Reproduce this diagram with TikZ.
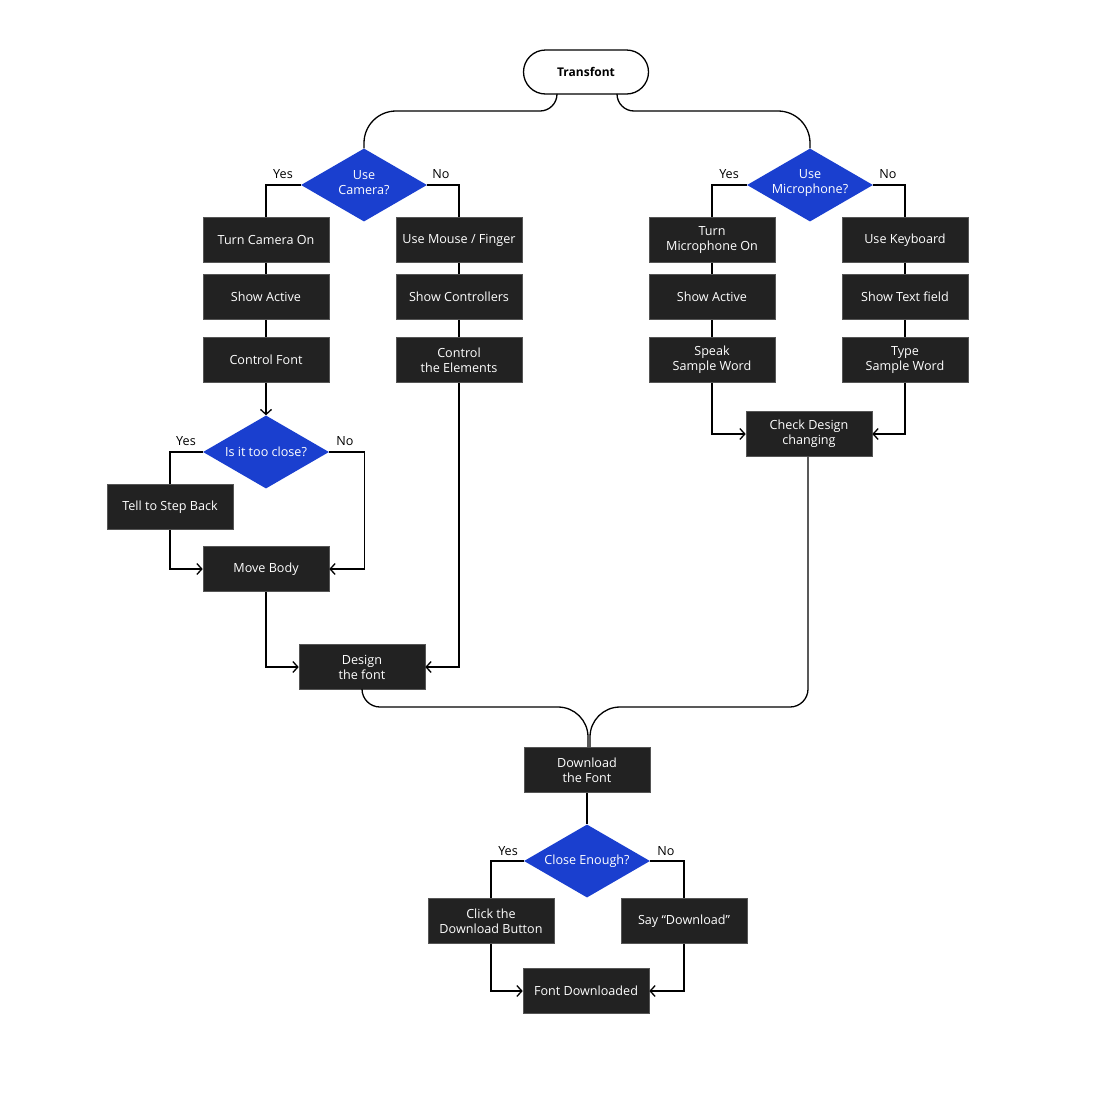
\documentclass[tikz,border=0pt]{standalone}
\usepackage{fontspec}
\setmainfont{Open Sans}
\usetikzlibrary{arrows.meta,shapes.geometric,positioning}
\definecolor{boxfill}{HTML}{222222}
\definecolor{boxline}{HTML}{555555}
\definecolor{decblue}{HTML}{1A3FCF}
\begin{document}
\begin{tikzpicture}[x=1pt,y=-1pt,
  every node/.style={font=\fontsize{12.6}{15}\selectfont},
  proc/.style={draw=boxline,line width=0.6pt,fill=boxfill,text=white,minimum width=126pt,minimum height=45pt,inner sep=0pt,align=center},
  dec/.style={shape=diamond,fill=decblue,minimum width=126pt,minimum height=73pt,inner sep=0pt},
  dtext/.style={text=white,align=center},
  dtexttwo/.style={dtext,yshift=2pt},
  term/.style={draw=black,line width=1.3pt,fill=white,rounded corners=22pt,minimum width=125pt,minimum height=44pt,inner sep=0pt,font=\fontsize{12}{14.5}\selectfont\bfseries},
  lbl/.style={text=black},
  conn/.style={draw=black,line width=1.3pt},
  arr/.style={conn,-{Straight Barb[length=5pt,width=11pt,line width=1.3pt]}}
]
\useasboundingbox (0,0) rectangle (1100,1093);

\node[term] (t) at (586,72) {Transfont};

% left branch
\node[dec,label={[dtexttwo]center:Use\\Camera?}] (uc) at (364,185) {};
\node[lbl] (ucy) at (283,174) {Yes};
\node[lbl] (ucn) at (441,174) {No};
\node[proc] (tco) at (266,240) {Turn Camera On};
\node[proc] (sa1) at (266,297) {Show Active};
\node[proc] (cf) at (266,360) {Control Font};
\node[proc] (umf) at (459,240) {Use Mouse / Finger};
\node[proc] (sc) at (459,297) {Show Controllers};
\node[proc] (ce) at (459,360) {Control\\the Elements};
\node[dec,label={[dtext]center:Is it too close?}] (itc) at (266,452) {};
\node[lbl] (itcy) at (186,441) {Yes};
\node[lbl] (itcn) at (345,441) {No};
\node[proc] (tsb) at (170,507) {Tell to Step Back};
\node[proc] (mb) at (266,569) {Move Body};
\node[proc] (dtf) at (362,667) {Design\\the font};

% right branch
\node[dec,label={[dtexttwo]center:Use\\Microphone?}] (um) at (810,185) {};
\node[lbl] (umy) at (729,174) {Yes};
\node[lbl] (umn) at (888,174) {No};
\node[proc] (tmo) at (712,240) {Turn\\Microphone On};
\node[proc] (sa2) at (712,297) {Show Active};
\node[proc] (ssw) at (712,360) {Speak\\Sample Word};
\node[proc] (uk) at (905,240) {Use Keyboard};
\node[proc] (stf) at (905,297) {Show Text field};
\node[proc] (tsw) at (905,360) {Type\\Sample Word};
\node[proc] (cdc) at (809,434) {Check Design\\changing};

% bottom
\node[proc] (dl) at (587,770) {Download\\the Font};
\node[dec,label={[dtext]center:Close Enough?}] (ceq) at (587,861) {};
\node[lbl] (ceqy) at (508,851) {Yes};
\node[lbl] (ceqn) at (666,851) {No};
\node[proc] (cdb) at (491,921) {Click the\\Download Button};
\node[proc] (sd) at (684,921) {Say “Download”};
\node[proc] (fd) at (586,991) {Font Downloaded};

% top connectors
\draw[conn] ([xshift=-29pt]t.south) [rounded corners=17pt] |- (450,111) [rounded corners=32pt] -| (uc.north);
\draw[conn] ([xshift=31pt]t.south) [rounded corners=17pt] |- (700,111) [rounded corners=32pt] -| (um.north);

% camera branch
\draw[conn] (uc.west) -| (tco.north);
\draw[conn] (uc.east) -| (umf.north);
\draw[conn] (tco) -- (sa1);
\draw[conn] (sa1) -- (cf);
\draw[conn] (umf) -- (sc);
\draw[conn] (sc) -- (ce);
\draw[arr] (cf.south) -- (itc.north);
\draw[conn] (itc.west) -| (tsb.north);
\draw[arr] (itc.east) -| ([xshift=35pt]mb.east) -- (mb.east);
\draw[arr] (tsb.south) |- (mb.west);
\draw[arr] (mb.south) |- (dtf.west);
\draw[arr] (ce.south) |- (dtf.east);

% microphone branch
\draw[conn] (um.west) -| (tmo.north);
\draw[conn] (um.east) -| (uk.north);
\draw[conn] (tmo) -- (sa2);
\draw[conn] (sa2) -- (ssw);
\draw[conn] (uk) -- (stf);
\draw[conn] (stf) -- (tsw);
\draw[arr] (ssw.south) |- (cdc.west);
\draw[arr] (tsw.south) |- (cdc.east);

% merge
\draw[conn] (dtf.south) [rounded corners=18pt] |- (500,707) [rounded corners=30pt] -| ([xshift=1pt]dl.north);
\draw[conn] ([xshift=-1pt]cdc.south) [rounded corners=18pt] |- (700,707) [rounded corners=30pt] -| ([xshift=3pt]dl.north);

% bottom
\draw[conn] (dl.south) -- (ceq.north);
\draw[conn] (ceq.west) -| (cdb.north);
\draw[conn] (ceq.east) -| (sd.north);
\draw[arr] (cdb.south) |- (fd.west);
\draw[arr] (sd.south) |- (fd.east);
\end{tikzpicture}
\end{document}
